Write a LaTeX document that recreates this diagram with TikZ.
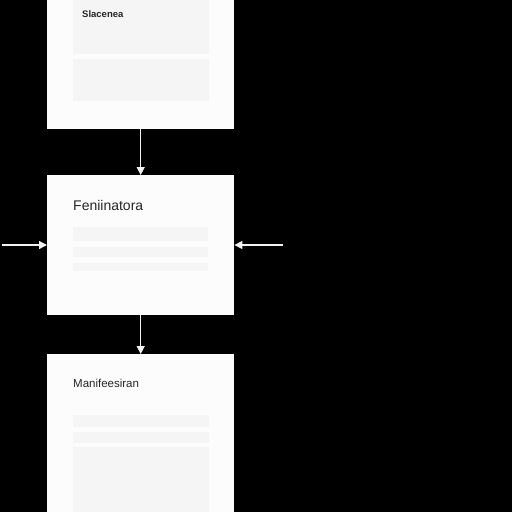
\documentclass[tikz,border=0pt]{standalone}
\usepackage{fontspec}
\setmainfont{Liberation Sans}
\usetikzlibrary{arrows.meta}
\begin{document}
\begin{tikzpicture}[x=1pt,y=-1pt,
  card/.style={fill=white!99!black,draw=none},
  bar/.style={fill=black!4,draw=none},
  ttl/.style={anchor=west,text=black!85,inner sep=0pt},
  link/.style={draw=white!95!black,line width=1.3pt,-{Triangle[length=8pt,width=8pt]}}]
\fill[black] (0,0) rectangle (512,512);
\useasboundingbox (0,0) rectangle (512,512);
% boxes
\node[card,minimum width=187pt,minimum height=129pt,inner sep=0pt,anchor=north west] (b1) at (47,0) {};
\node[card,minimum width=187pt,minimum height=140pt,inner sep=0pt,anchor=north west] (b2) at (47,175) {};
\node[card,minimum width=187pt,minimum height=158pt,inner sep=0pt,anchor=north west] (b3) at (47,354) {};
% box 1 content
\fill[bar] (73,0) rectangle (209,54);
\fill[bar] (73,59) rectangle (209,101);
\node[ttl,font=\bfseries\fontsize{9.5}{11}\selectfont] (t1) at (82,14) {Slacenea};
% box 2 content
\node[ttl,font=\fontsize{14}{16}\selectfont] (t2) at (73,205) {Feniinatora};
\fill[bar] (73,227) rectangle (208,241);
\fill[bar] (73,247) rectangle (208,257);
\fill[bar] (73,263) rectangle (208,271);
% box 3 content
\node[ttl,font=\fontsize{11.5}{13}\selectfont] (t3) at (73,383) {Manifeesiran};
\fill[bar] (73,415) rectangle (209,427);
\fill[bar] (73,432) rectangle (209,443);
\fill[bar] (73,447) rectangle (209,512);
% connectors
\coordinate (lin) at (2,245);
\coordinate (rin) at (283,245);
\draw[link] (b1.south) -- (b2.north);
\draw[link] (b2.south) -- (b3.north);
\draw[link] (lin) -- (b2.west |- lin);
\draw[link] (rin) -- (b2.east |- rin);
\end{tikzpicture}
\end{document}
